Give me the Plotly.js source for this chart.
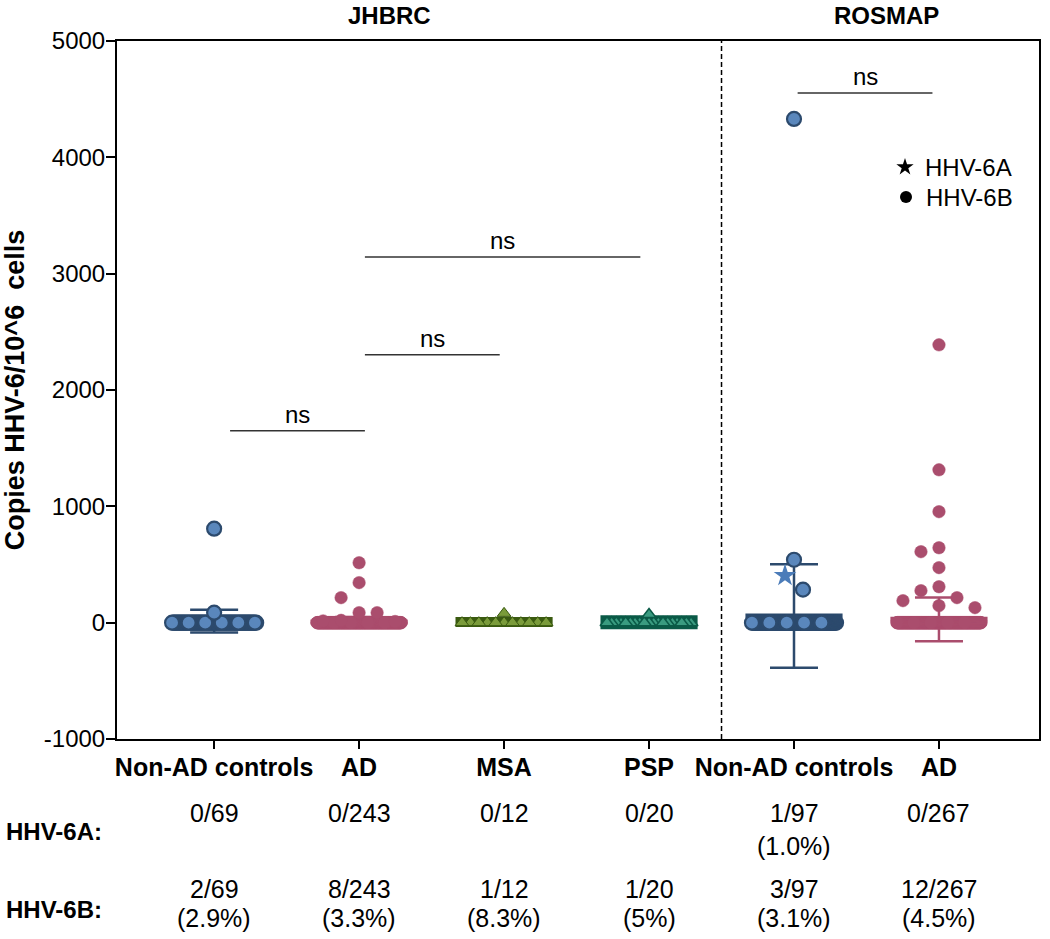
<!DOCTYPE html>
<html><head><meta charset="utf-8">
<script src="https://cdn.plot.ly/plotly-3.0.1.min.js"></script>
<style>html,body{margin:0;padding:0;background:#fff}#chart{width:1050px;height:939px}</style>
</head><body><div id="chart"></div>
<script>
// ---------------- data ----------------
const groupLabels = ['Non-AD controls', 'AD', 'MSA', 'PSP', 'Non-AD controls', 'AD'];
const cohortLabels = ['JHBRC', 'ROSMAP'];
const groupTotals = [69, 243, 12, 20, 97, 267];
const hhv6bNonAdJ = [808, 86];
const hhv6bAdJ = [515, 344, 215, 86, 86, 20, 15, 10];
const hhv6bMsa = [80];
const hhv6bPsp = [70];
const hhv6bNonAdR = [4330, 541, 284];
const hhv6bAdR = [2388, 1314, 954, 644, 610, 473, 309, 275, 215, 189, 146, 129];
const hhv6bValues = [hhv6bNonAdJ, hhv6bAdJ, hhv6bMsa, hhv6bPsp, hhv6bNonAdR, hhv6bAdR];
const hhv6aValues = [[], [], [], [], [404], []];
const hhv6aCounts = ['0/69', '0/243', '0/12', '0/20', '1/97', '0/267'];
const hhv6aPct = ['', '', '', '', '(1.0%)', ''];
const hhv6bCounts = ['2/69', '8/243', '1/12', '1/20', '3/97', '12/267'];
const hhv6bPct = ['(2.9%)', '(3.3%)', '(8.3%)', '(5%)', '(3.1%)', '(4.5%)'];
const sigFrom = [0.11, 1.04, 1.04, 4.025];
const sigTo = [1.04, 1.97, 2.94, 4.955];
const sigLevel = [1649, 2302, 3144, 4553];
const sigLabel = ['ns', 'ns', 'ns', 'ns'];
const yTickVals = [-1000, 0, 1000, 2000, 3000, 4000, 5000];
const rowLabels = ['HHV-6A:', 'HHV-6B:'];
const seriesNames = ['HHV-6A', 'HHV-6B'];
const yTitle = 'Copies HHV-6/10^6\u00a0 cells';

// ---------------- layout constants ----------------
const FONT = 'Liberation Sans, Arial, Helvetica, sans-serif';
const W = 1050, H = 939;
const M = {l: 117, r: 11, t: 41, b: 200};
const xRange = [-0.67, 5.69], yRange = [-1000, 5000];
const pw = W - M.l - M.r, ph = H - M.t - M.b;
const pxPerX = pw / (xRange[1] - xRange[0]);
const pxPerY = ph / (yRange[1] - yRange[0]);
const spreadHalf = 0.29;   // half-width of the zero swarm (data units)
const meanHalf = 0.335;    // half-width of the mean line
const paperY = py => (H - M.b - py) / ph;
const paperX = px => (px - M.l) / pw;

const styles = [
  {sym: 'circle', dark: '#2C4A6D', light: '#5A87BC', size: 14, lw: 2.2, meanW: 5},
  {sym: 'circle', dark: '#AA4D6D', light: '#AA4D6D', size: 12.5, lw: 0.5, meanW: 5},
  {sym: 'triangle-up', dark: '#3A5A10', light: '#7A9B3A', size: 12, lw: 1, meanW: 10},
  {sym: 'triangle-up', dark: '#0A5A47', light: '#3A9B80', size: 12, lw: 1.5, meanW: 14},
  {sym: 'circle', dark: '#2C4A6D', light: '#5A87BC', size: 14, lw: 2.2, meanW: 5},
  {sym: 'circle', dark: '#AA4D6D', light: '#AA4D6D', size: 12.5, lw: 0.5, meanW: 5}
];
const starColor = '#4B7CB9';

// simple beeswarm for the positive points (pixel space)
function swarm(vals, minDist, step, maxOff) {
  const order = vals.map((_, i) => i).sort((a, b) => vals[b] - vals[a]);
  const placed = [], off = new Array(vals.length).fill(0);
  for (const i of order) {
    const py = vals[i] * pxPerY;
    let chosen = 0;
    for (let k = 0; k < 30; k++) {
      const c = k === 0 ? 0 : (k % 2 ? -Math.ceil(k / 2) * step : Math.ceil(k / 2) * step);
      if (Math.abs(c) > maxOff) continue;
      if (placed.every(p => Math.hypot(p.x - c, p.y - py) >= minDist)) { chosen = c; break; }
    }
    placed.push({x: chosen, y: py});
    off[i] = chosen;
  }
  return off.map(o => o / pxPerX);
}

const under = [], zeros = [], pos = [];
groupLabels.forEach((_, g) => {
  const st = styles[g];
  const b = hhv6bValues[g], a = hhv6aValues[g];
  const nZero = groupTotals[g] - b.length - a.length;
  const all = b.concat(a).concat(new Array(nZero).fill(0));
  const n = all.length;
  const mean = all.reduce((s, v) => s + v, 0) / n;
  const sd = Math.sqrt(all.reduce((s, v) => s + (v - mean) * (v - mean), 0) / (n - 1));

  under.push({type: 'scatter', mode: 'lines', x: [g - meanHalf, g + meanHalf], y: [mean, mean],
    line: {color: st.dark, width: st.meanW}, showlegend: false, hoverinfo: 'skip'});
  under.push({type: 'scatter', mode: 'markers', x: [g], y: [mean],
    marker: {size: 1, color: 'rgba(0,0,0,0)'},
    error_y: {type: 'data', array: [sd], visible: true, color: st.dark, thickness: 2.5, width: 24},
    showlegend: false, hoverinfo: 'skip'});

  const step = Math.max(1, Math.round(17 / ((2 * spreadHalf * pxPerX) / Math.max(1, nZero - 1))));
  const idx = [];
  for (let k = 0; k < nZero; k++) idx.push(k);
  idx.sort((p, q) => ((q % step) - (p % step)) || (p - q));
  const zx = idx.map(k => g - spreadHalf + (nZero > 1 ? 2 * spreadHalf * k / (nZero - 1) : spreadHalf));
  const zc = idx.map(k => (st.sym === 'circle' && k % step === 0) ? st.light : (st.sym === 'circle' ? st.dark : st.light));
  zeros.push({type: 'scatter', mode: 'markers', x: zx, y: idx.map(() => 0),
    marker: {symbol: st.sym, size: st.size, color: zc, line: {color: st.dark, width: st.lw}},
    showlegend: false, hoverinfo: 'skip'});

  const offs = swarm(b.concat(a), 18, 9, spreadHalf * pxPerX);
  pos.push({type: 'scatter', mode: 'markers', x: b.map((_, i) => g + offs[i]), y: b,
    marker: {symbol: st.sym, size: st.size, color: st.light, line: {color: st.dark, width: st.lw}},
    showlegend: false, hoverinfo: 'skip'});
  if (a.length) {
    pos.push({type: 'scatter', mode: 'markers', x: a.map((_, i) => g + offs[b.length + i]), y: a,
      marker: {symbol: 'star', size: 17, color: starColor, line: {width: 0}},
      showlegend: false, hoverinfo: 'skip'});
  }
});

const legendTraces = [
  {type: 'scatter', mode: 'markers', x: [null], y: [null], name: seriesNames[0], legend: 'legend',
    marker: {symbol: 'star', size: 13, color: '#000'}, showlegend: true},
  {type: 'scatter', mode: 'markers', x: [null], y: [null], name: seriesNames[1], legend: 'legend2',
    marker: {symbol: 'circle', size: 12, color: '#000'}, showlegend: true}
];

const shapes = [{type: 'line', xref: 'x', yref: 'paper', x0: 3.5, x1: 3.5, y0: 0, y1: 1,
  line: {color: '#000', width: 1.5, dash: '5px,3px'}}];
const annotations = [];
sigFrom.forEach((f, i) => {
  shapes.push({type: 'line', xref: 'x', yref: 'y', x0: f, x1: sigTo[i], y0: sigLevel[i], y1: sigLevel[i],
    line: {color: '#333', width: 1.5}});
  annotations.push({xref: 'x', yref: 'y', x: (f + sigTo[i]) / 2, y: sigLevel[i], text: sigLabel[i],
    showarrow: false, yanchor: 'bottom', yshift: 1, font: {size: 24, color: '#000'}});
});
const ann = (o) => annotations.push(Object.assign({showarrow: false, yanchor: 'middle', xanchor: 'center'}, o));
ann({xref: 'x', yref: 'paper', x: 1.21, y: paperY(16), text: cohortLabels[0], font: {size: 24, weight: 'bold'}});
ann({xref: 'x', yref: 'paper', x: 4.64, y: paperY(16), text: cohortLabels[1], font: {size: 24, weight: 'bold'}});
ann({xref: 'paper', yref: 'paper', x: paperX(4), y: paperY(831), xanchor: 'left', text: rowLabels[0],
  font: {size: 24, weight: 'bold'}});
ann({xref: 'paper', yref: 'paper', x: paperX(4), y: paperY(909), xanchor: 'left', text: rowLabels[1],
  font: {size: 24, weight: 'bold'}});
groupLabels.forEach((_, g) => {
  const add = (t, py) => { if (t) ann({xref: 'x', yref: 'paper', x: g, y: paperY(py), text: t, font: {size: 25}}); };
  add(hhv6aCounts[g], 813);
  add(hhv6aPct[g], 846);
  add(hhv6bCounts[g], 889);
  add(hhv6bPct[g], 918);
});

const legendBase = {xanchor: 'left', yanchor: 'top', font: {size: 24}, bgcolor: 'rgba(0,0,0,0)',
  borderwidth: 0, itemwidth: 30};
const layout = {
  width: W, height: H, margin: M, paper_bgcolor: '#fff', plot_bgcolor: '#fff',
  font: {family: FONT, color: '#000'},
  showlegend: true,
  legend: Object.assign({x: paperX(885), y: paperY(145)}, legendBase),
  legend2: Object.assign({x: paperX(886), y: paperY(175)}, legendBase),
  xaxis: {range: xRange, tickmode: 'array', tickvals: groupLabels.map((_, i) => i), ticktext: groupLabels,
    tickfont: {size: 25, weight: 'bold'}, ticks: 'outside', ticklen: 8, tickwidth: 2, tickcolor: '#000',
    ticklabelstandoff: -3,
    showline: true, linewidth: 2, linecolor: '#000', mirror: true, showgrid: false, zeroline: false, fixedrange: true},
  yaxis: {range: yRange, tickmode: 'array', tickvals: yTickVals, ticktext: yTickVals.map(String),
    tickfont: {size: 24}, ticks: 'outside', ticklen: 9, tickwidth: 2, tickcolor: '#000',
    ticklabelstandoff: -4,
    showline: true, linewidth: 2, linecolor: '#000', mirror: true, showgrid: false, zeroline: false, fixedrange: true,
    title: {text: yTitle, font: {size: 27, weight: 'bold'}, standoff: 12}},
  shapes: shapes, annotations: annotations
};

Plotly.newPlot('chart', under.concat(zeros, pos, legendTraces), layout, {displayModeBar: false, staticPlot: true});
</script>
</body></html>
